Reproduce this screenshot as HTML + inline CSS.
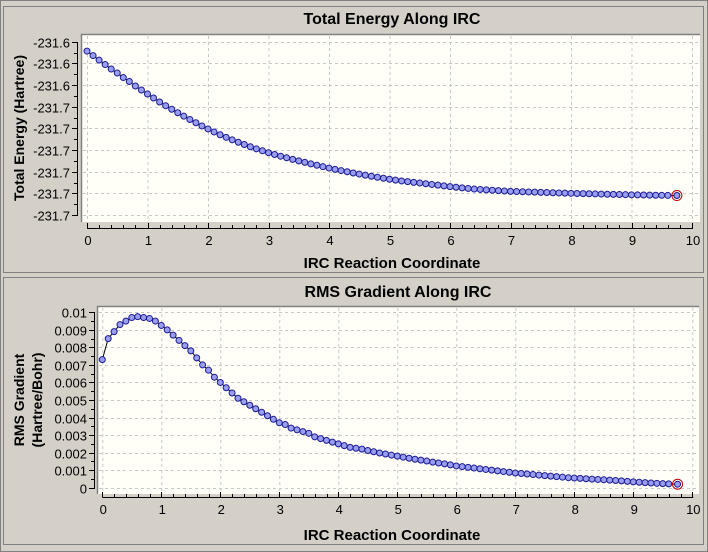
<!DOCTYPE html>
<html><head><meta charset="utf-8"><style>
html,body{margin:0;padding:0;width:708px;height:552px;overflow:hidden;background:#d4d0c8;font-family:"Liberation Sans",Arial,sans-serif}
svg{display:block}
</style></head><body>
<svg id="svg" width="708" height="552" xmlns="http://www.w3.org/2000/svg">
<rect x="0" y="0" width="708" height="552" fill="#d4d0c8"/>
<rect x="0.5" y="0.5" width="707" height="551" fill="none" stroke="#808080"/>
<rect x="3.5" y="6.5" width="700" height="266" fill="none" stroke="#808080"/>
<rect x="3.5" y="277.5" width="700" height="267" fill="none" stroke="#808080"/>
<text x="392" y="24" text-anchor="middle" font-size="16" font-weight="bold">Total Energy Along IRC</text>
<text x="392" y="268" text-anchor="middle" font-size="15" font-weight="bold">IRC Reaction Coordinate</text>
<text transform="translate(24,128) rotate(-90)" text-anchor="middle" font-size="14" font-weight="bold">Total Energy (Hartree)</text>
<text x="398" y="297" text-anchor="middle" font-size="16" font-weight="bold">RMS Gradient Along IRC</text>
<text x="392" y="540" text-anchor="middle" font-size="15" font-weight="bold">IRC Reaction Coordinate</text>
<text transform="translate(24,400) rotate(-90)" text-anchor="middle" font-size="14" font-weight="bold">RMS Gradient</text>
<text transform="translate(42,400) rotate(-90)" text-anchor="middle" font-size="14" font-weight="bold">(Hartree/Bohr)</text>
</svg>
<script>
const energy = [-231.6255,-231.62775,-231.63,-231.63225,-231.6345,-231.6365,-231.63875,-231.64075,-231.643,-231.645,-231.647,
-231.649,-231.651,-231.65285,-231.65465,-231.6564,-231.6581,-231.65975,-231.6614,-231.663,-231.6645,
-231.666,-231.6674,-231.6687,-231.66995,-231.67115,-231.6723,-231.6734,-231.67445,-231.67545,-231.6764,
-231.6773,-231.67815,-231.67895,-231.67975,-231.6805,-231.68125,-231.682,-231.6827,-231.6834,-231.6841,
-231.68475,-231.68535,-231.68595,-231.68655,-231.6871,-231.68765,-231.6882,-231.6887,-231.6892,-231.6897,
-231.69015,-231.69055,-231.6909,-231.69125,-231.6916,-231.69195,-231.6923,-231.69265,-231.693,-231.6934,
-231.6937,-231.694,-231.6943,-231.6946,-231.6948,-231.695,-231.6952,-231.6954,-231.6956,-231.69575,
-231.69585,-231.69595,-231.69605,-231.69615,-231.69625,-231.69635,-231.69645,-231.69655,-231.69665,-231.69675,
-231.696825,-231.6969,-231.696975,-231.69705,-231.697125,-231.6972,-231.697275,-231.69735,-231.697425,-231.6975,
-231.69755,-231.6976,-231.69765,-231.6977,-231.69775,-231.6978,-231.69785];
const rmsGrad = [0.0073,0.0085,0.0089,0.0093,0.0095,0.0097,0.00975,0.0097,0.00965,0.0095,0.00925,
0.009,0.0087,0.0084,0.0081,0.0078,0.0074,0.007,0.0067,0.0063,0.006,
0.0057,0.0054,0.0051,0.0049,0.0047,0.0045,0.0043,0.0041,0.0039,0.0037,
0.0036,0.0034,0.0033,0.0032,0.0031,0.0029,0.0028,0.0027,0.0026,0.0025,
0.0024,0.0023,0.00225,0.0022,0.00212,0.00205,0.00198,0.00192,0.00186,0.0018,
0.00174,0.00168,0.00162,0.00157,0.00152,0.00146,0.00141,0.00136,0.0013,0.00124,
0.0012,0.00116,0.00112,0.00108,0.00104,0.001,0.00096,0.00092,0.00088,0.00084,
0.00081,0.00078,0.00075,0.00072,0.00069,0.00066,0.00063,0.0006,0.00057,0.00055,
0.00053,0.00051,0.00049,0.00047,0.00045,0.00043,0.00041,0.00039,0.00036,0.00033,
0.00031,0.00029,0.00027,0.00025,0.00023,0.00022,0.0002];
const coord = [];
for (let i = 0; i < 97; i++) coord.push(i / 10);
coord.push(9.75);
const xTicks = [0,1,2,3,4,5,6,7,8,9,10];
const energyTicks = [-231.6208,-231.63165,-231.6425,-231.65335,-231.6642,-231.67505,-231.6859,-231.69675,-231.7076];
const energyTickLabels = ["-231.6","-231.6","-231.6","-231.7","-231.7","-231.7","-231.7","-231.7","-231.7"];
const gradTicks = [0,0.001,0.002,0.003,0.004,0.005,0.006,0.007,0.008,0.009,0.01];
const gradTickLabels = ["0","0.001","0.002","0.003","0.004","0.005","0.006","0.007","0.008","0.009","0.01"];

const NS = "http://www.w3.org/2000/svg";
const svg = document.getElementById('svg');
function mk(tag, attrs, parent) {
  const e = document.createElementNS(NS, tag);
  for (const k in attrs) e.setAttribute(k, attrs[k]);
  (parent || svg).appendChild(e);
  return e;
}
function chart(cfg) {
  const g = mk('g', {});
  
  
  const sx = v => cfg.x0 + v * cfg.xs;
  const sy = v => cfg.yTop + (cfg.yMax - v) / (cfg.yMax - cfg.yMin) * (cfg.yBot - cfg.yTop);
  const bg = mk('rect', {x: cfg.pl, y: cfg.pt, width: cfg.pr - cfg.pl, height: cfg.pb - cfg.pt, fill: '#fffff8'}, g);
  
  
  mk('path', {d: `M${cfg.pl+0.5},${cfg.pb} V${cfg.pt+0.5} H${cfg.pr}`, stroke: '#808080', 'stroke-width': 1.5, fill: 'none'}, g);
  cfg.xTicks.forEach(t => {
    const gl = mk('line', {x1: sx(t)+0.5, x2: sx(t)+0.5, y1: cfg.pt+2, y2: cfg.pb, stroke: '#c8c8c8', 'stroke-dasharray': '3,3'}, g);
    
    
  });
  cfg.yTicks.forEach(t => {
    const gl = mk('line', {x1: cfg.pl+2, x2: cfg.pr, y1: Math.round(sy(t))+0.5, y2: Math.round(sy(t))+0.5, stroke: '#c8c8c8', 'stroke-dasharray': '3,3'}, g);
    
    
  });
  const xa = mk('g', {}, g);
  
  
  mk('line', {x1: sx(0), x2: sx(10)+1, y1: cfg.xAxisY+0.5, y2: cfg.xAxisY+0.5, stroke: '#000'}, xa);
  for (let i = 0; i <= 50; i++) {
    const v = i * 0.2, major = i % 5 === 0;
    mk('line', {x1: Math.round(sx(v))+0.5, x2: Math.round(sx(v))+0.5, y1: cfg.xAxisY, y2: cfg.xAxisY - (major ? 5 : 3), stroke: '#000'}, xa);
  }
  cfg.xTicks.forEach(t => {
    const tl = mk('text', {x: sx(t)+1, y: cfg.xAxisY + 17, 'text-anchor': 'middle', 'font-size': 13, fill: '#000'}, xa);
    tl.textContent = t;
    
    
  });
  const ya = mk('g', {}, g);
  
  
  const yl0 = Math.round(sy(cfg.yTicks[0])), yl1 = Math.round(sy(cfg.yTicks[cfg.yTicks.length-1]));
  mk('line', {x1: cfg.yAxisX+0.5, x2: cfg.yAxisX+0.5, y1: Math.min(yl0,yl1), y2: Math.max(yl0,yl1)+1, stroke: '#000'}, ya);
  cfg.yTicks.forEach((t, i) => {
    const y = Math.round(sy(t)) + 0.5;
    mk('line', {x1: cfg.yAxisX - 5, x2: cfg.yAxisX, y1: y, y2: y, stroke: '#000'}, ya);
    if (i < cfg.yTicks.length - 1) {
      const ym = Math.round((sy(t) + sy(cfg.yTicks[i+1])) / 2) + 0.5;
      mk('line', {x1: cfg.yAxisX - 3, x2: cfg.yAxisX, y1: ym, y2: ym, stroke: '#000'}, ya);
    }
    const tl = mk('text', {x: cfg.yAxisX - 7, y: y + 5, 'text-anchor': 'end', 'font-size': 13, fill: '#000'}, ya);
    tl.textContent = cfg.yLabels[i];
    
    
  });
  const n = Math.min(cfg.data.length, coord.length);
  const pts = [];
  for (let i = 0; i < n; i++) pts.push([sx(coord[i]), sy(cfg.data[i])]);
  const line = mk('polyline', {points: pts.map(p => p.join(',')).join(' '), fill: 'none', stroke: '#000', 'stroke-width': 1}, g);
  
  
  pts.forEach(p => {
    const c = mk('circle', {cx: p[0], cy: p[1], r: 3, fill: '#9a9ef0', stroke: '#1a1a90', 'stroke-width': 1}, g);
    
    
  });
  const last = pts[pts.length-1];
  const ring = mk('circle', {cx: last[0], cy: last[1], r: 5, fill: 'none', stroke: '#c00000', 'stroke-width': 1}, g);
  
  
}
chart({name: 'energy-chart', data: energy, xTicks: xTicks, yTicks: energyTicks, yLabels: energyTickLabels,
  x0: 87, xs: 60.5, pl: 81, pr: 700, pt: 34, pb: 222, xAxisY: 228, yAxisX: 77,
  yMax: energyTicks[0], yMin: energyTicks[8], yTop: 41.7, yBot: 215});
chart({name: 'gradient-chart', data: rmsGrad, xTicks: xTicks, yTicks: gradTicks, yLabels: gradTickLabels,
  x0: 102.3, xs: 59, pl: 97, pr: 699, pt: 306, pb: 494, xAxisY: 497, yAxisX: 94,
  yMax: 0.01, yMin: 0, yTop: 312.3, yBot: 487.7});
</script>
</body></html>
